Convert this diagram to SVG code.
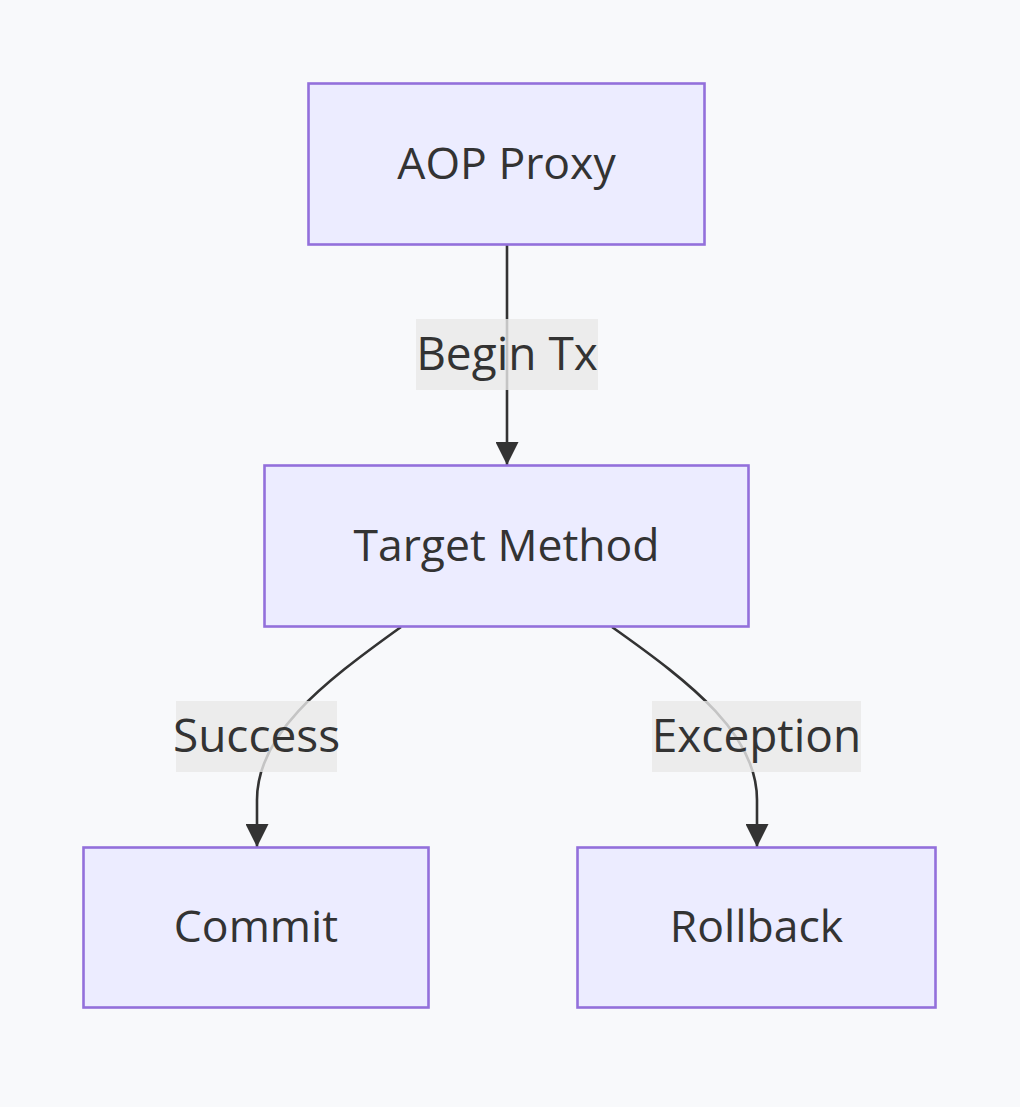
<svg xmlns="http://www.w3.org/2000/svg" width="1020" height="1107" viewBox="0 0 1020 1107">
<style>
.node rect{fill:#ECECFF;stroke:#9370DB;stroke-width:2.6}
text{font-family:"Open Sans","Noto Sans","Liberation Sans",sans-serif;font-size:44.5px;fill:#333;text-anchor:middle}
.lbl text{font-size:46px}
.edge{fill:none;stroke:#333;stroke-width:2.6}
.lbl rect{fill:#e8e8e8;opacity:0.8}
</style>
<defs>
<marker id="arrow" viewBox="0 0 10 10" refX="10" refY="5" markerUnits="userSpaceOnUse" markerWidth="23" markerHeight="23" orient="auto">
<path d="M0,0 L10,5 L0,10 z" fill="#333"/>
</marker>
</defs>
<rect width="1020" height="1107" fill="#f8f9fb"/>
<g id="connectors">
<path class="edge" d="M507,245 L507,465" marker-end="url(#arrow)"/>
<path class="edge" d="M401,627 C320,685 257,735 257,800 L257,847" marker-end="url(#arrow)"/>
<path class="edge" d="M612,627 C694,685 757,735 757,800 L757,847" marker-end="url(#arrow)"/>
</g>
<g id="edge-labels">
<g class="lbl" id="label-begin"><rect x="416" y="319" width="182" height="71"/><text x="507" y="370">Begin Tx</text></g>
<g class="lbl" id="label-success"><rect x="176" y="701" width="161" height="71"/><text x="256.5" y="752">Success</text></g>
<g class="lbl" id="label-exception"><rect x="652" y="701" width="209" height="71"/><text x="756.5" y="752">Exception</text></g>
</g>
<g class="node" id="node-aop"><rect x="308.5" y="83.5" width="396" height="161"/><text x="506.5" y="179">AOP Proxy</text></g>
<g class="node" id="node-target"><rect x="264.5" y="465.5" width="484" height="161"/><text x="506.5" y="561">Target Method</text></g>
<g class="node" id="node-commit"><rect x="83.5" y="847.5" width="345" height="160"/><text x="256" y="942">Commit</text></g>
<g class="node" id="node-rollback"><rect x="577.5" y="847.5" width="358" height="160"/><text x="756.5" y="942">Rollback</text></g>
</svg>
